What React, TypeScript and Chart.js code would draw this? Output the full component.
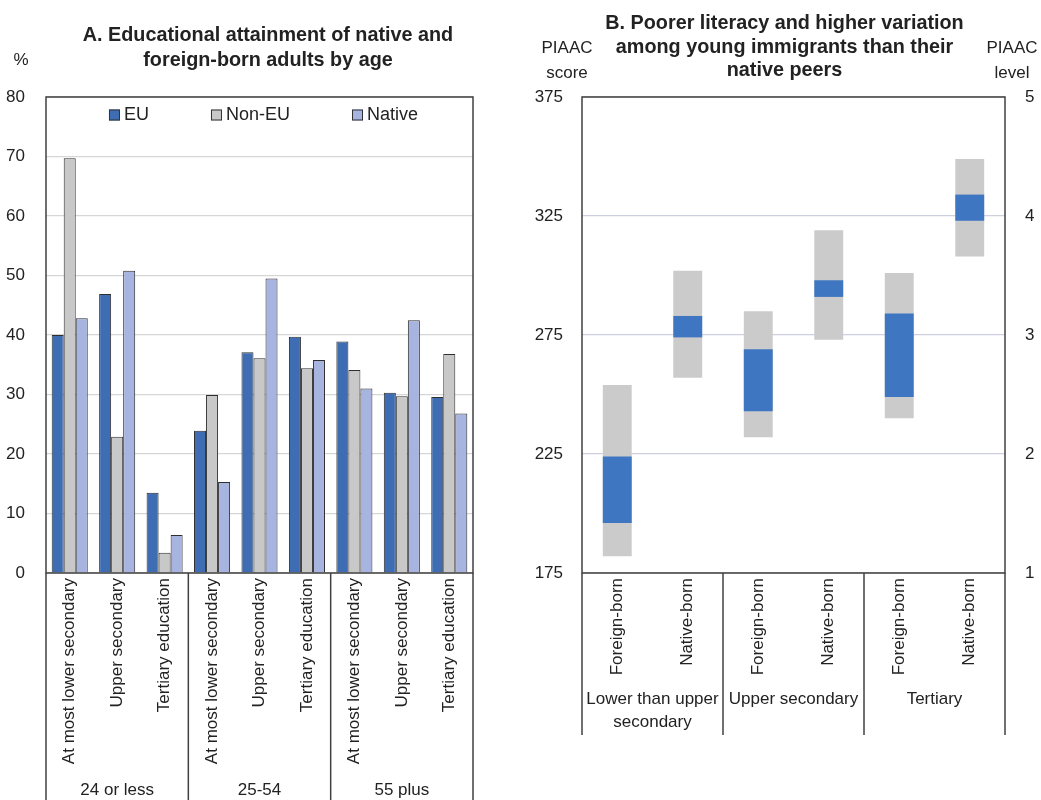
import React, { useEffect, useRef } from "react";
import { Chart, registerables } from "chart.js";

Chart.register(...registerables);

const FONT = "'Liberation Sans', Arial, Helvetica, sans-serif";
Chart.defaults.font.family = FONT;
Chart.defaults.color = "#222";

// ---------- Panel A data ----------
const panelATitle = ["A. Educational attainment of native and", "foreign-born adults by age"];
const ageGroups = ["24 or less", "25-54", "55 plus"];
const categoriesA = [
  "At most lower secondary", "Upper secondary", "Tertiary education",
  "At most lower secondary", "Upper secondary", "Tertiary education",
  "At most lower secondary", "Upper secondary", "Tertiary education",
];
const seriesNamesA = ["EU", "Non-EU", "Native"];
const euValues = [40.0, 46.9, 13.5, 23.9, 37.1, 39.7, 38.9, 30.3, 29.6];
const nonEuValues = [69.7, 22.9, 3.4, 29.9, 36.1, 34.4, 34.1, 29.7, 36.8];
const nativeValues = [42.8, 50.8, 6.4, 15.3, 49.5, 35.8, 31.0, 42.5, 26.8];
const yTicksA = [0, 10, 20, 30, 40, 50, 60, 70, 80];
const yUnitA = "%";

// ---------- Panel B data ----------
const panelBTitle = ["B. Poorer literacy and higher variation", "among young immigrants than their", "native peers"];
const birthLabels = ["Foreign-born", "Native-born", "Foreign-born", "Native-born", "Foreign-born", "Native-born"];
const attainmentGroups = [["Lower than upper", "secondary"], ["Upper secondary"], ["Tertiary"]];
const rangeLow = [182, 257, 232, 273, 240, 308];
const rangeHigh = [254, 302, 285, 319, 301, 349];
const coreLow = [196, 274, 243, 291, 249, 323];
const coreHigh = [224, 283, 269, 298, 284, 334];
const scoreTicks = [175, 225, 275, 325, 375];
const levelTicks = [1, 2, 3, 4, 5];
const leftAxisTitle = ["PIAAC", "score"];
const rightAxisTitle = ["PIAAC", "level"];

const EU_COLOR = "#3f6db3";
const NONEU_COLOR = "#c8c8c8";
const NATIVE_COLOR = "#a7b4df";
const CORE_COLOR = "#3f76c1";
const RANGE_COLOR = "#cbcbcb";
const BORDER = "#404040";

function PanelA() {
  const ref = useRef<HTMLCanvasElement>(null);
  useEffect(() => {
    const canvas = ref.current!;
    const decor = {
      id: "decorA",
      afterDraw(chart: any) {
        const ctx = chart.ctx as CanvasRenderingContext2D;
        const ca = chart.chartArea;
        ctx.save();
        ctx.strokeStyle = BORDER;
        ctx.lineWidth = 1.5;
        ctx.strokeRect(ca.left, ca.top, ca.right - ca.left, ca.bottom - ca.top);
        const gw = (ca.right - ca.left) / ageGroups.length;
        for (let i = 0; i <= ageGroups.length; i++) {
          const x = ca.left + i * gw;
          ctx.beginPath();
          ctx.moveTo(x, ca.bottom);
          ctx.lineTo(x, 800);
          ctx.stroke();
        }
        ctx.fillStyle = "#222";
        ctx.font = `17px ${FONT}`;
        ctx.textAlign = "center";
        ctx.textBaseline = "middle";
        ageGroups.forEach((g, i) => ctx.fillText(g, ca.left + (i + 0.5) * gw, 790));
        ctx.fillText(yUnitA, 21, 60);
        // legend inside plot area
        ctx.font = `18px ${FONT}`;
        const box = 11, gapText = 4, gapItem = 62;
        const widths = seriesNamesA.map((n) => box + gapText + ctx.measureText(n).width);
        const total = widths.reduce((a, b) => a + b, 0) + gapItem * (widths.length - 1);
        let x = (ca.left + ca.right) / 2 + 4 - total / 2;
        const y = 115;
        chart.data.datasets.forEach((ds: any, i: number) => {
          ctx.fillStyle = ds.backgroundColor;
          ctx.fillRect(x, y - 5.5, box, box);
          ctx.strokeStyle = "#333";
          ctx.lineWidth = 1;
          ctx.strokeRect(x + 0.5, y - 5, box - 1, box - 1);
          ctx.fillStyle = "#222";
          ctx.textAlign = "left";
          ctx.fillText(ds.label, x + box + gapText, y);
          x += widths[i] + gapItem;
        });
        ctx.restore();
      },
    };
    const mk = (label: string, data: number[], color: string) => ({
      label,
      data,
      backgroundColor: color,
      borderColor: "#2e2e2e",
      borderWidth: 1,
      categoryPercentage: 0.76,
      barPercentage: 1.0,
    });
    const chart = new Chart(canvas, {
      type: "bar",
      data: {
        labels: categoriesA,
        datasets: [
          mk(seriesNamesA[0], euValues, EU_COLOR),
          mk(seriesNamesA[1], nonEuValues, NONEU_COLOR),
          mk(seriesNamesA[2], nativeValues, NATIVE_COLOR),
        ],
      },
      options: {
        responsive: false,
        animation: false,
        devicePixelRatio: 1,
        layout: { padding: { left: 0, right: 0, top: 12, bottom: 0 } },
        plugins: {
          legend: { display: false },
          tooltip: { enabled: false },
          title: {
            display: true,
            text: panelATitle,
            color: "#222",
            font: { size: 19.8, weight: "bold", lineHeight: "25px" as any },
            padding: { top: 11, bottom: 24 },
          },
        },
        scales: {
          x: {
            grid: { display: false, drawTicks: false },
            border: { display: false },
            ticks: { minRotation: 90, maxRotation: 90, autoSkip: false, padding: 5, font: { size: 17 }, color: "#222" },
            afterFit: (s: any) => { s.height = 227; },
          },
          y: {
            min: 0,
            max: 80,
            afterBuildTicks: (s: any) => { s.ticks = yTicksA.map((v) => ({ value: v })); },
            grid: { color: "#d6d6d6", drawTicks: false, lineWidth: 1.2 },
            border: { display: false },
            ticks: { padding: 21, font: { size: 17 }, color: "#222" },
            afterFit: (s: any) => { s.width = 46; },
          },
          yR: {
            position: "right",
            min: 0,
            max: 80,
            grid: { display: false, drawTicks: false },
            border: { display: false },
            ticks: { display: false },
            afterFit: (s: any) => { s.width = 63; },
          },
        },
      },
      plugins: [decor],
    });
    return () => chart.destroy();
  }, []);
  return (
    <canvas
      ref={ref}
      width={536}
      height={800}
      style={{ position: "absolute", left: 0, top: 0, width: 536, height: 800 }}
    />
  );
}

function PanelB() {
  const ref = useRef<HTMLCanvasElement>(null);
  useEffect(() => {
    const canvas = ref.current!;
    const decor = {
      id: "decorB",
      afterDraw(chart: any) {
        const ctx = chart.ctx as CanvasRenderingContext2D;
        const ca = chart.chartArea;
        ctx.save();
        ctx.strokeStyle = BORDER;
        ctx.lineWidth = 1.5;
        ctx.strokeRect(ca.left, ca.top, ca.right - ca.left, ca.bottom - ca.top);
        const gw = (ca.right - ca.left) / attainmentGroups.length;
        for (let i = 0; i <= attainmentGroups.length; i++) {
          const x = ca.left + i * gw;
          ctx.beginPath();
          ctx.moveTo(x, ca.bottom);
          ctx.lineTo(x, 735);
          ctx.stroke();
        }
        ctx.fillStyle = "#222";
        ctx.font = `17px ${FONT}`;
        ctx.textAlign = "center";
        ctx.textBaseline = "middle";
        attainmentGroups.forEach((lines, i) => {
          lines.forEach((t, j) => ctx.fillText(t, ca.left + (i + 0.5) * gw, 699 + j * 23));
        });
        leftAxisTitle.forEach((t, j) => ctx.fillText(t, ca.left - 15, 48 + j * 25));
        rightAxisTitle.forEach((t, j) => ctx.fillText(t, ca.right + 7, 48 + j * 25));
        ctx.restore();
      },
    };
    const chart = new Chart(canvas, {
      type: "bar",
      data: {
        labels: birthLabels,
        datasets: [
          {
            label: "Interquartile range",
            data: coreLow.map((v, i) => [v, coreHigh[i]]) as any,
            backgroundColor: CORE_COLOR,
            borderWidth: 0,
            grouped: false,
            categoryPercentage: 1,
            barPercentage: 0.41,
            yAxisID: "y",
          },
          {
            label: "Range",
            data: rangeLow.map((v, i) => [v, rangeHigh[i]]) as any,
            backgroundColor: RANGE_COLOR,
            borderWidth: 0,
            grouped: false,
            categoryPercentage: 1,
            barPercentage: 0.41,
            yAxisID: "y",
          },
        ],
      },
      options: {
        responsive: false,
        animation: false,
        devicePixelRatio: 1,
        layout: { padding: { left: 0, right: 0, top: 0, bottom: 0 } },
        plugins: {
          legend: { display: false },
          tooltip: { enabled: false },
          title: {
            display: true,
            text: panelBTitle,
            color: "#222",
            font: { size: 19.8, weight: "bold", lineHeight: "23.5px" as any },
            padding: { top: 12.25, bottom: 14.25 },
          },
        },
        scales: {
          x: {
            grid: { display: false, drawTicks: false },
            border: { display: false },
            ticks: { minRotation: 90, maxRotation: 90, autoSkip: false, padding: 5, font: { size: 17 }, color: "#222" },
            afterFit: (s: any) => { s.height = 227; },
          },
          y: {
            position: "left",
            min: 175,
            max: 375,
            afterBuildTicks: (s: any) => { s.ticks = scoreTicks.map((v) => ({ value: v })); },
            grid: { color: "#cdd0de", drawTicks: false, lineWidth: 1.2 },
            border: { display: false },
            ticks: { padding: 19, font: { size: 17 }, color: "#222" },
            afterFit: (s: any) => { s.width = 54; },
          },
          y2: {
            position: "right",
            min: 1,
            max: 5,
            afterBuildTicks: (s: any) => { s.ticks = levelTicks.map((v) => ({ value: v })); },
            grid: { display: false, drawTicks: false },
            border: { display: false },
            ticks: { padding: 20, font: { size: 17 }, color: "#222" },
            afterFit: (s: any) => { s.width = 36; },
          },
        },
      },
      plugins: [decor],
    });
    return () => chart.destroy();
  }, []);
  return (
    <canvas
      ref={ref}
      width={513}
      height={800}
      style={{ position: "absolute", left: 528, top: 0, width: 513, height: 800 }}
    />
  );
}

export default function App() {
  return (
    <div>
      <PanelA />
      <PanelB />
    </div>
  );
}
